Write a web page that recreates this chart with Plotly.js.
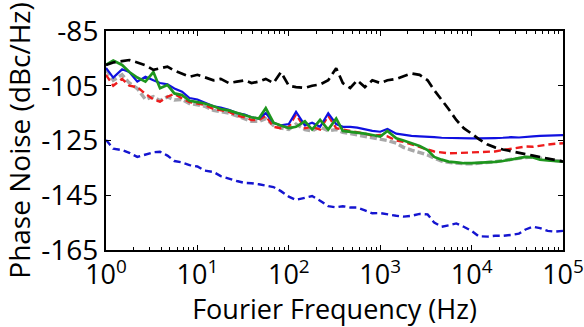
<!DOCTYPE html>
<html>
<head>
<meta charset="utf-8">
<script src="https://cdn.plot.ly/plotly-3.0.1.min.js"></script>
<style>html,body{margin:0;padding:0;background:#fff;}#chart{width:584px;height:327px;}</style>
</head>
<body>
<div id="chart"></div>
<script>
// Fourier frequency grid (Hz)
const freq = [1,1.2,1.5,1.8,2.2,2.7,3.3,3.9,4.7,5.6,6.8,8.2,
  10,12,15,18,22,27,33,39,47,56,68,82,
  100,120,150,180,220,270,330,390,470,560,680,820,
  1000,1200,1500,1800,2200,2700,3300,3900,4700,5600,6800,8200,
  10000,12000,15000,18000,22000,27000,33000,39000,47000,56000,68000,82000,
  100000];

// Phase noise series (dBc/Hz)
const grayDashed = [-99,-103,-101,-104,-106,-110,-109,-110.5,-109,-110.2,-110,-111.5,
  -112,-112.5,-114,-114.5,-115,-116,-117,-118,-118,-117,-119.5,-120.5,
  -121,-119,-121,-121.5,-120,-121.5,-121,-122,-122.5,-123,-123.5,-124,
  -124.5,-125,-126,-127.5,-128.5,-129.5,-130.3,-131.5,-132.5,-133,-133.3,-133.5,
  -133.5,-133.3,-133,-132.8,-132.3,-131.8,-131.5,-131.2,-131,-131.5,-132,-132.3,
  -132.5];

const redDashed = [-101,-105,-102.5,-105,-105.5,-108,-110,-110.8,-109,-108,-109.6,-111,
  -111.5,-112,-113.5,-114,-114.5,-116,-116.5,-117.5,-117.5,-116,-120,-120.5,
  -120,-115.5,-120.5,-120,-121,-116,-120.5,-121,-121.5,-122,-122.5,-123.3,
  -123,-123.5,-125,-125.5,-126.5,-127.3,-128.3,-129,-129.5,-129.7,-129.6,-129.5,
  -129.5,-129.3,-129.2,-129,-128.5,-128,-127.5,-127.2,-127.3,-126.8,-126.5,-126.2,
  -126];

const blueSolid = [-98.5,-102,-99,-100,-103.5,-101.7,-103,-104,-104.5,-106,-107.2,-109.5,
  -110,-111,-112.5,-113,-113.8,-115,-115.5,-116.5,-117,-115,-118.5,-119.5,
  -119,-114.5,-119.5,-118.5,-120,-115,-119,-120,-120,-120.3,-121,-121.5,
  -121.8,-120.8,-122.5,-123,-123.3,-123.5,-123.8,-123.8,-124,-124.1,-124.2,-124.2,
  -124.2,-124.2,-124,-124.1,-124,-123.8,-123.9,-123.8,-123.5,-123.3,-123.2,-123.1,
  -123];

const greenSolid = [-97.4,-95.8,-97.4,-100,-102,-103.5,-100,-105.9,-104.7,-107.8,-108.4,-110.5,
  -111,-111.5,-112.5,-113.5,-114,-115,-115.8,-116.5,-117,-113.2,-118.5,-119.5,
  -120.5,-120,-118,-121,-117.5,-121,-117,-121.5,-121.8,-122,-122.5,-123,
  -123.6,-121.5,-124.2,-125,-126,-127,-128.5,-131,-132,-132.7,-133,-133.3,
  -133.3,-133.2,-133,-132.8,-132.5,-132,-131.5,-131,-131.2,-132,-132.3,-132.5,
  -132.7];

const blackDashed = [-97.4,-96.5,-96,-95.6,-96.5,-97.5,-99.2,-98.5,-98,-99.5,-100.5,-101.7,
  -101,-102,-103,-102.5,-104,-103.5,-103,-104,-103.5,-102.5,-104,-100,
  -105,-105.5,-105.8,-105,-104.5,-103,-98.6,-104,-105.8,-103,-105.5,-103,
  -104,-103,-102.5,-101.5,-100.5,-101,-103,-106.6,-110,-113.5,-117.5,-120.5,
  -122.5,-124.5,-126.5,-127.5,-128.3,-129,-129.5,-130,-130.5,-131,-131.5,-132,
  -132.7];

const blueDashed = [-124.8,-128,-128.5,-129.5,-131,-130,-129.3,-129.1,-130.5,-132.5,-133,-134,
  -134.5,-136,-136.5,-138,-139,-139.8,-140.5,-140.6,-141,-141.5,-142,-143.5,
  -145.5,-146.7,-146,-145.3,-147,-149,-149.4,-149,-149.5,-149.5,-150.5,-151.6,
  -151.5,-152,-152.5,-152.8,-152.5,-151.8,-152,-155,-156.5,-156,-155.3,-156.5,
  -158,-160,-160.1,-159.8,-159.8,-159.5,-159,-157.5,-156.5,-157,-158,-158.3,
  -158];

const xTickVals = [1,10,100,1000,10000,100000];
const xTickText = ['10<sup>0</sup>','10<sup>1</sup>','10<sup>2</sup>','10<sup>3</sup>','10<sup>4</sup>','10<sup>5</sup>'];
const yTickVals = [-165,-145,-125,-105,-85];
const yTickText = ['-165','-145','-125','-105','-85'];

const traces = [
  {x: freq, y: grayDashed, mode:'lines', line:{color:'#a8a8a8', width:3.4, dash:'7px,3px'}},
  {x: freq, y: redDashed, mode:'lines', line:{color:'#ee1c1c', width:2.4, dash:'7px,4px'}},
  {x: freq, y: blueSolid, mode:'lines', line:{color:'#1010e0', width:2.2}},
  {x: freq, y: greenSolid, mode:'lines', line:{color:'#1e961e', width:2.7}},
  {x: freq, y: blackDashed, mode:'lines', line:{color:'#000000', width:2.7, dash:'10px,5px'}},
  {x: freq, y: blueDashed, mode:'lines', line:{color:'#1515d0', width:2.4, dash:'7px,4px'}}
];

const font = 'Open Sans, Lato, sans-serif';
const layout = {
  width:584, height:327,
  margin:{l:106, r:21, t:31, b:77},
  paper_bgcolor:'#fff', plot_bgcolor:'#fff',
  showlegend:false,
  font:{family:font, color:'#000'},
  xaxis:{
    type:'log', range:[0,5],
    tickvals:xTickVals, ticktext:xTickText,
    ticks:'inside', ticklen:5, tickwidth:1.2, tickcolor:'#000',
    minor:{ticks:'inside', ticklen:3, tickwidth:1, tickcolor:'#000', dtick:'D1', showgrid:false},
    showgrid:false, zeroline:false,
    showline:true, linecolor:'#000', linewidth:2, mirror:'ticks',
    tickfont:{family:font, size:27, color:'#000'},
    title:{text:'Fourier Frequency (Hz)', font:{family:font, size:27, color:'#000'}, standoff:0}
  },
  yaxis:{
    range:[-165,-85],
    tickvals:yTickVals, ticktext:yTickText,
    ticks:'inside', ticklen:5, tickwidth:1.2, tickcolor:'#000',
    showgrid:false, zeroline:false,
    showline:true, linecolor:'#000', linewidth:2, mirror:'ticks',
    tickfont:{family:font, size:28, color:'#000'},
    title:{text:'Phase Noise (dBc/Hz)', font:{family:font, size:28, color:'#000'}, standoff:6}
  }
};

Plotly.newPlot('chart', traces, layout, {displayModeBar:false, staticPlot:true});
</script>
</body>
</html>
